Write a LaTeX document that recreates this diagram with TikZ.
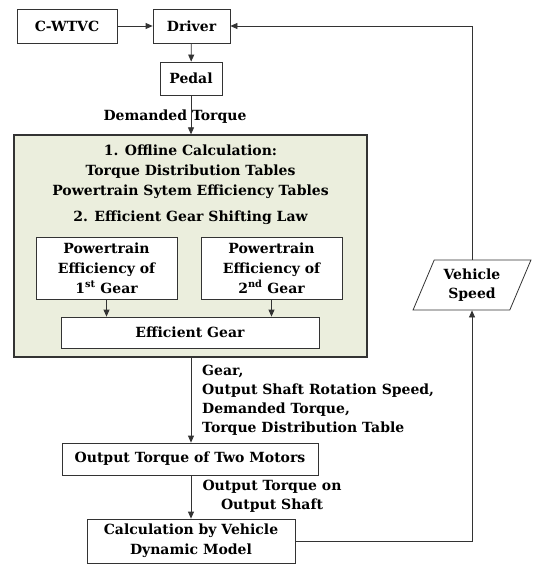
\documentclass[tikz,border=0pt]{standalone}
\usepackage{fontspec}
\setmainfont{DejaVu Serif}
\usetikzlibrary{shapes.geometric,arrows.meta}

\definecolor{linegray}{HTML}{333333}
\definecolor{panelgreen}{HTML}{EBEEDD}

\tikzset{
  blk/.style={draw=linegray, fill=white, line width=0.8pt, align=center,
    inner sep=0pt, font=\bfseries\fontsize{14}{20}\selectfont},
  panel/.style={draw=linegray, fill=panelgreen, line width=1.3pt, inner sep=0pt},
  txt/.style={align=center, inner sep=0pt, font=\bfseries\fontsize{14}{20}\selectfont},
  note/.style={align=left, inner sep=0pt, font=\bfseries\fontsize{14}{19}\selectfont},
  flow/.style={draw=linegray, line width=0.8pt, -{Triangle[length=7pt,width=6pt]}},
}

\begin{document}
\begin{tikzpicture}[x=1pt,y=-1pt]
  \useasboundingbox (0,0) rectangle (532,564);

  % --- top row: cycle, driver, pedal ---
  \node[blk, minimum width=100, minimum height=34] (cwtvc) at (67,26) {C-WTVC};
  \node[blk, minimum width=77, minimum height=34] (driver) at (191.5,26) {Driver};
  \node[blk, minimum width=62, minimum height=33] (pedal) at (191,78.5) {Pedal};

  % --- offline calculation panel ---
  \node[panel, minimum width=353, minimum height=222] (offline) at (190.5,246) {};
  \node[txt] (tables) at (190.5,172) {1. Offline Calculation:\\Torque Distribution Tables\\Powertrain Sytem Efficiency Tables};
  \node[txt] (law) at (190.5,218) {2. Efficient Gear Shifting Law};
  \node[blk, minimum width=141, minimum height=62] (gearone) at (106.5,268) {Powertrain\\Efficiency of\\1\textsuperscript{st} Gear};
  \node[blk, minimum width=141, minimum height=62] (geartwo) at (271.5,268) {Powertrain\\Efficiency of\\2\textsuperscript{nd} Gear};
  \node[blk, minimum width=258, minimum height=31] (effgear) at (190,332.5) {Efficient Gear};

  % --- motors and vehicle model ---
  \node[blk, minimum width=256, minimum height=32] (motors) at (190,459) {Output Torque of Two Motors};
  \node[blk, minimum width=208, minimum height=44] (vehicle) at (191,541) {Calculation by Vehicle\\Dynamic Model};
  \node[blk, trapezium, trapezium left angle=64, trapezium right angle=116,
    trapezium stretches=true, minimum width=118, minimum height=50,
    font=\bfseries\fontsize{14}{19}\selectfont] (speed) at (472,285) {Vehicle\\Speed};

  % --- labels on the arrows ---
  \node[txt] (demand) at (175,117) {Demanded Torque};
  \node[note, anchor=west] (inputs) at (202,400.5) {Gear,\\Output Shaft Rotation Speed,\\Demanded Torque,\\Torque Distribution Table};
  \node[txt, font=\bfseries\fontsize{14}{19}\selectfont] (shaft) at (272,496.5) {Output Torque on\\Output Shaft};

  % --- connectors ---
  \draw[flow] (cwtvc) -- (driver);
  \draw[flow] (driver) -- (pedal);
  \draw[flow] (pedal) -- (pedal |- offline.north);
  \draw[flow] (gearone) -- (gearone |- effgear.north);
  \draw[flow] (geartwo) -- (geartwo |- effgear.north);
  \draw[flow] (offline.south -| pedal) -- (motors.north -| pedal);
  \draw[flow] (motors.south -| pedal) -- (vehicle.north -| pedal);
  \draw[flow] (vehicle.east) -| (speed.south);
  \draw[flow] (speed.north) |- (driver.east);

\end{tikzpicture}
\end{document}
